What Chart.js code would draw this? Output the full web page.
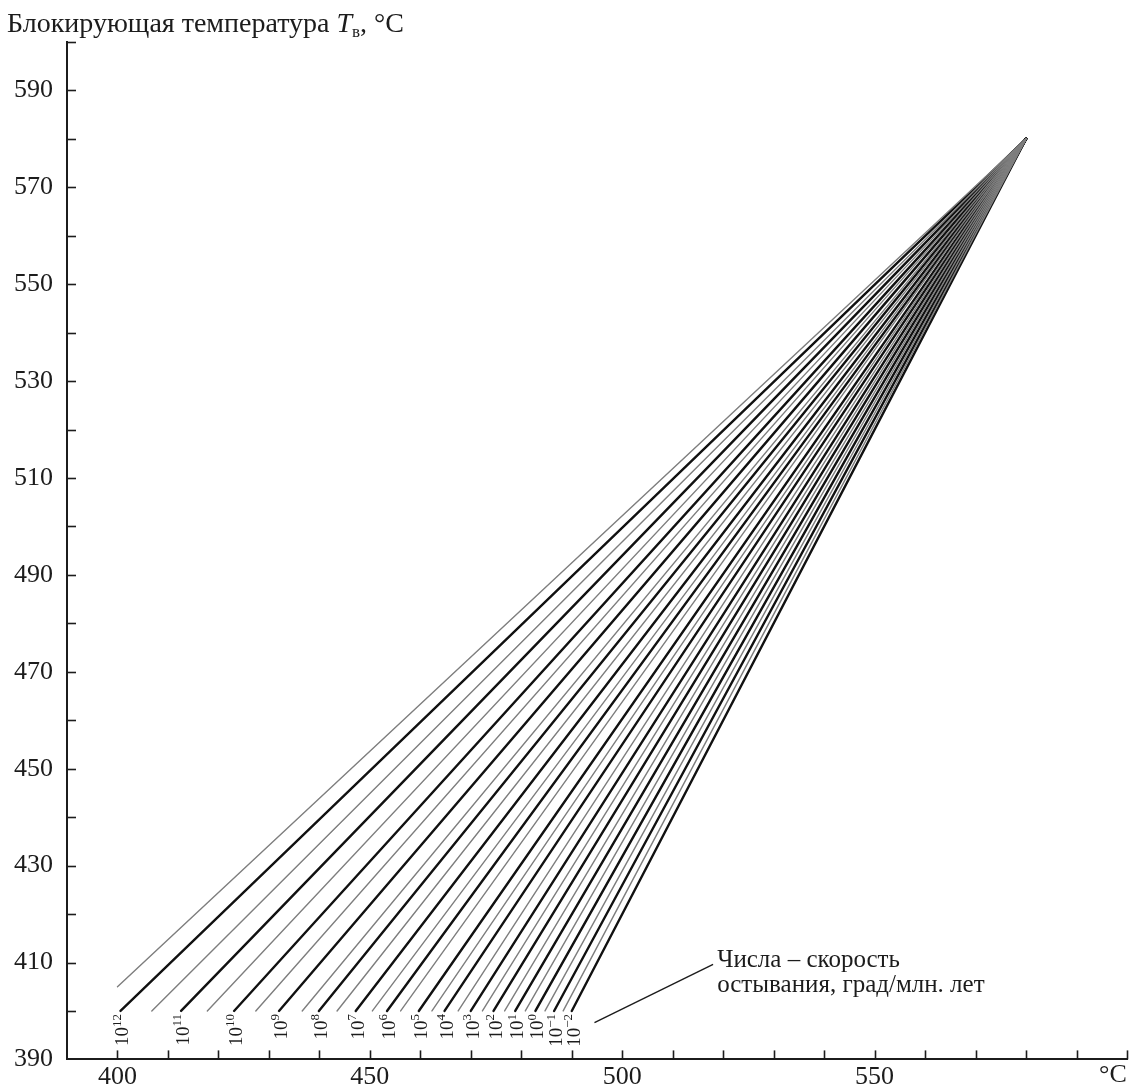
<!DOCTYPE html>
<html>
<head>
<meta charset="utf-8">
<script src="https://cdn.jsdelivr.net/npm/chart.js@4.4.1/dist/chart.umd.min.js"></script>
<style>
  body { margin: 0; background: #fff; }
  canvas { display: block; }
</style>
</head>
<body>
<canvas id="myChart" width="1130" height="1089"></canvas>
<script>
'use strict'

// скорость остывания 10^n град/млн. лет, жирные линии
const majorExp = [12, 11, 10, 9, 8, 7, 6, 5, 4, 3, 2, 1, 0, -1, -2]
// T (ось X) и Tb (ось Y) в нижней точке жирных линий
const majorStartT = [400.6, 412.6, 423.1, 432.0, 439.9, 447.2, 453.4, 459.7, 464.8, 470.0, 474.5, 478.8, 482.8, 486.5, 490.0]
const majorStartTb = [400, 400, 400, 400, 400, 400, 400, 400, 400, 400, 400, 400, 400, 400, 400]
// тонкие линии (полдекады) между ними
const minorStartT = [400.0, 406.8, 417.8, 427.4, 436.6, 443.5, 450.5, 456.1, 462.3, 467.5, 472.3, 476.7, 480.8, 484.7, 488.3]
const minorStartTb = [405, 400, 400, 400, 400, 400, 400, 400, 400, 400, 400, 400, 400, 400, 400]
// все линии сходятся в точке Кюри магнетита
const curieT = 580

const xTickLabels = [400, 450, 500, 550]
const yTickLabels = [390, 410, 430, 450, 470, 490, 510, 530, 550, 570, 590]

const SERIF = '"Liberation Serif", "DejaVu Serif", serif'
const INK = '#1c1c1c'

const datasets = []
minorStartT.forEach((t, i) => {
  datasets.push({
    data: [{ x: t, y: minorStartTb[i] }, { x: curieT, y: curieT }],
    borderColor: '#7e7e7e',
    borderWidth: 1.4
  })
})
majorStartT.forEach((t, i) => {
  datasets.push({
    data: [{ x: t, y: majorStartTb[i] }, { x: curieT, y: curieT }],
    borderColor: '#111111',
    borderWidth: 2.4
  })
})

const supText = n => String(n).replace('-', '\u2212')

const decor = {
  id: 'decor',
  afterDraw(chart) {
    const ctx = chart.ctx
    const xs = chart.scales.x
    const ys = chart.scales.y
    const area = chart.chartArea
    ctx.save()
    ctx.strokeStyle = INK
    ctx.fillStyle = INK
    ctx.lineWidth = 1.6

    // засечки внутрь поля
    ys.ticks.forEach(tk => {
      if (tk.value === ys.min) return
      const py = Math.round(ys.getPixelForValue(tk.value)) + 0.5
      ctx.beginPath()
      ctx.moveTo(area.left, py)
      ctx.lineTo(area.left + 9, py)
      ctx.stroke()
    })
    xs.ticks.forEach(tk => {
      if (tk.value === xs.min) return
      const px = Math.round(xs.getPixelForValue(tk.value)) + 0.5
      ctx.beginPath()
      ctx.moveTo(px, area.bottom)
      ctx.lineTo(px, area.bottom - 9)
      ctx.stroke()
    })

    // заголовок оси Y
    let tx = 7
    const ty = 32
    ctx.textBaseline = 'alphabetic'
    ctx.textAlign = 'left'
    ctx.font = '28px ' + SERIF
    const head = 'Блокирующая температура '
    ctx.fillText(head, tx, ty)
    tx += ctx.measureText(head).width
    ctx.font = 'italic 28px ' + SERIF
    ctx.fillText('T', tx, ty)
    tx += ctx.measureText('T').width
    ctx.font = '17px ' + SERIF
    ctx.fillText('в', tx, ty + 5)
    tx += ctx.measureText('в').width
    ctx.font = '28px ' + SERIF
    ctx.fillText(', °C', tx, ty)

    // единица оси X
    ctx.font = '26px ' + SERIF
    ctx.textAlign = 'center'
    ctx.textBaseline = 'top'
    ctx.fillText('°C', xs.getPixelForValue(597.2), area.bottom + 3)

    // подписи скоростей под жирными линиями
    majorExp.forEach((n, i) => {
      const px = xs.getPixelForValue(majorStartT[i])
      const py = ys.getPixelForValue(majorStartTb[i]) + 3
      ctx.save()
      ctx.translate(px, py)
      ctx.rotate(-Math.PI / 2)
      ctx.textAlign = 'left'
      ctx.textBaseline = 'middle'
      ctx.font = '19px ' + SERIF
      const wb = ctx.measureText('10').width
      ctx.font = '13px ' + SERIF
      const ws = ctx.measureText(supText(n)).width
      const len = wb + ws
      ctx.font = '19px ' + SERIF
      ctx.fillText('10', -len, 3)
      ctx.font = '13px ' + SERIF
      ctx.fillText(supText(n), -len + wb, -3)
      ctx.restore()
    })

    // выноска и пояснение
    ctx.lineWidth = 1.4
    ctx.beginPath()
    ctx.moveTo(xs.getPixelForValue(494.5), ys.getPixelForValue(397.6))
    ctx.lineTo(xs.getPixelForValue(518.0), ys.getPixelForValue(409.6))
    ctx.stroke()
    ctx.font = '25px ' + SERIF
    ctx.textAlign = 'left'
    ctx.textBaseline = 'alphabetic'
    const lx = xs.getPixelForValue(518.8)
    ctx.fillText('Числа – скорость', lx, ys.getPixelForValue(409.1))
    ctx.fillText('остывания, град/млн. лет', lx, ys.getPixelForValue(403.9))
    ctx.restore()
  }
}

const ctx = document.getElementById('myChart')

const myChart = new Chart(ctx, {
  type: 'scatter',
  data: { datasets: datasets },
  options: {
    responsive: false,
    animation: false,
    devicePixelRatio: 1,
    events: [],
    showLine: true,
    elements: {
      point: { radius: 0 },
      line: { tension: 0, borderCapStyle: 'round' }
    },
    layout: { padding: { top: 42, right: 3, left: 0, bottom: 0 } },
    plugins: {
      legend: { display: false },
      tooltip: { enabled: false }
    },
    scales: {
      x: {
        type: 'linear',
        min: 390,
        max: 600,
        afterFit: s => { s.height = 29 },
        border: { display: true, color: INK, width: 2 },
        grid: { display: false, drawTicks: false },
        ticks: {
          stepSize: 10,
          autoSkip: false,
          maxRotation: 0,
          padding: 2,
          color: INK,
          font: { family: SERIF, size: 26 },
          callback: v => xTickLabels.includes(v) ? String(v) : ''
        }
      },
      y: {
        type: 'linear',
        min: 390,
        max: 600,
        afterFit: s => { s.width = 67 },
        border: { display: true, color: INK, width: 2 },
        grid: { display: false, drawTicks: false },
        ticks: {
          stepSize: 10,
          autoSkip: false,
          padding: 14,
          color: INK,
          font: { family: SERIF, size: 26 },
          callback: v => yTickLabels.includes(v) ? String(v) : ''
        }
      }
    }
  },
  plugins: [decor]
})
</script>
</body>
</html>
